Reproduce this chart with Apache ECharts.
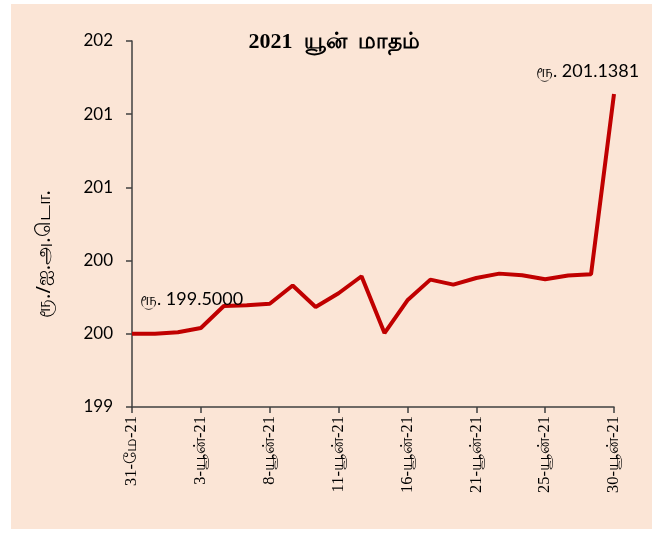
<!DOCTYPE html>
<html>
<head>
<meta charset="utf-8">
<script src="https://cdn.jsdelivr.net/npm/echarts@6/dist/echarts.min.js"></script>
<style>
  html, body { margin: 0; padding: 0; background: #ffffff; }
  #bg { position: absolute; left: 11px; top: 4px; width: 641px; height: 525px; background: #FBE5D6; }
  #main { position: absolute; left: 0; top: 0; width: 668px; height: 535px; }
</style>
</head>
<body>
<div id="bg"></div>
<div id="main"></div>
<script>
// 2021 June trading days
var dates = ['31-மே-21', '1-யூன்-21', '2-யூன்-21', '3-யூன்-21', '4-யூன்-21', '7-யூன்-21',
  '8-யூன்-21', '9-யூன்-21', '10-யூன்-21', '11-யூன்-21', '14-யூன்-21', '15-யூன்-21',
  '16-யூன்-21', '17-யூன்-21', '18-யூன்-21', '21-யூன்-21', '22-யூன்-21', '23-யூன்-21',
  '25-யூன்-21', '28-யூன்-21', '29-யூன்-21', '30-யூன்-21'];

var rates = [199.5000, 199.50, 199.51, 199.54, 199.69, 199.695,
  199.705, 199.83, 199.683, 199.777, 199.893, 199.505,
  199.729, 199.87, 199.836, 199.881, 199.911, 199.90,
  199.872, 199.898, 199.906, 201.1381];

/**
 * label only the first and last point
 */
function buildData(){
  return rates.map(function(v, i){
    var item = { value: v };
    if (i === 0) {
      item.label = { show: true, position: [8, -44] };
    } else if (i === rates.length - 1) {
      item.label = { show: true, position: [-78, -32] };
    }
    return item;
  });
}

var myChart = echarts.init(document.getElementById('main'));
var option = {
  backgroundColor: 'transparent',
  animation: false,
  title: {
    text: '2021  யூன்  மாதம்',
    left: 'center',
    top: 26,
    textStyle: { fontFamily: 'Liberation Serif', fontWeight: 'bold', fontSize: 22, color: '#000' }
  },
  grid: { left: 132, right: 54, top: 41, bottom: 128 },
  xAxis: {
    type: 'category',
    data: dates,
    boundaryGap: false,
    axisLine: { lineStyle: { color: '#404040', width: 1.5 } },
    axisTick: { show: true, interval: 2, length: 6, lineStyle: { color: '#404040', width: 1.5 } },
    axisLabel: {
      interval: 2, rotate: 90, margin: 9,
      fontFamily: 'Liberation Serif', fontSize: 16.5, color: '#000'
    },
    splitLine: { show: false }
  },
  yAxis: {
    type: 'value',
    min: 199, max: 201.5, interval: 0.5,
    name: 'ரூ./ஐ.அ.டொ.',
    nameLocation: 'middle',
    nameGap: 78,
    nameRotate: 90,
    nameTextStyle: { fontFamily: 'Noto Sans', fontSize: 20, color: '#000', padding: [0, 60, 0, 0] },
    axisLine: { show: true, lineStyle: { color: '#404040', width: 1.5 } },
    axisTick: { show: true, length: 6, lineStyle: { color: '#404040', width: 1.5 } },
    axisLabel: {
      margin: 19,
      formatter: function(v){ return String(Math.round(v)); },
      fontFamily: 'Lato', fontSize: 17, color: '#000'
    },
    splitLine: { show: false }
  },
  series: [{
    type: 'line',
    data: buildData(),
    showSymbol: true,
    symbol: 'circle',
    symbolSize: 0,
    lineStyle: { color: '#C00000', width: 4 },
    itemStyle: { color: '#C00000' },
    label: {
      show: false,
      formatter: function(p){ return 'ரூ. ' + p.value.toFixed(4); },
      fontFamily: 'Lato', fontSize: 18, color: '#000'
    }
  }]
};
myChart.setOption(option);
</script>
</body>
</html>
